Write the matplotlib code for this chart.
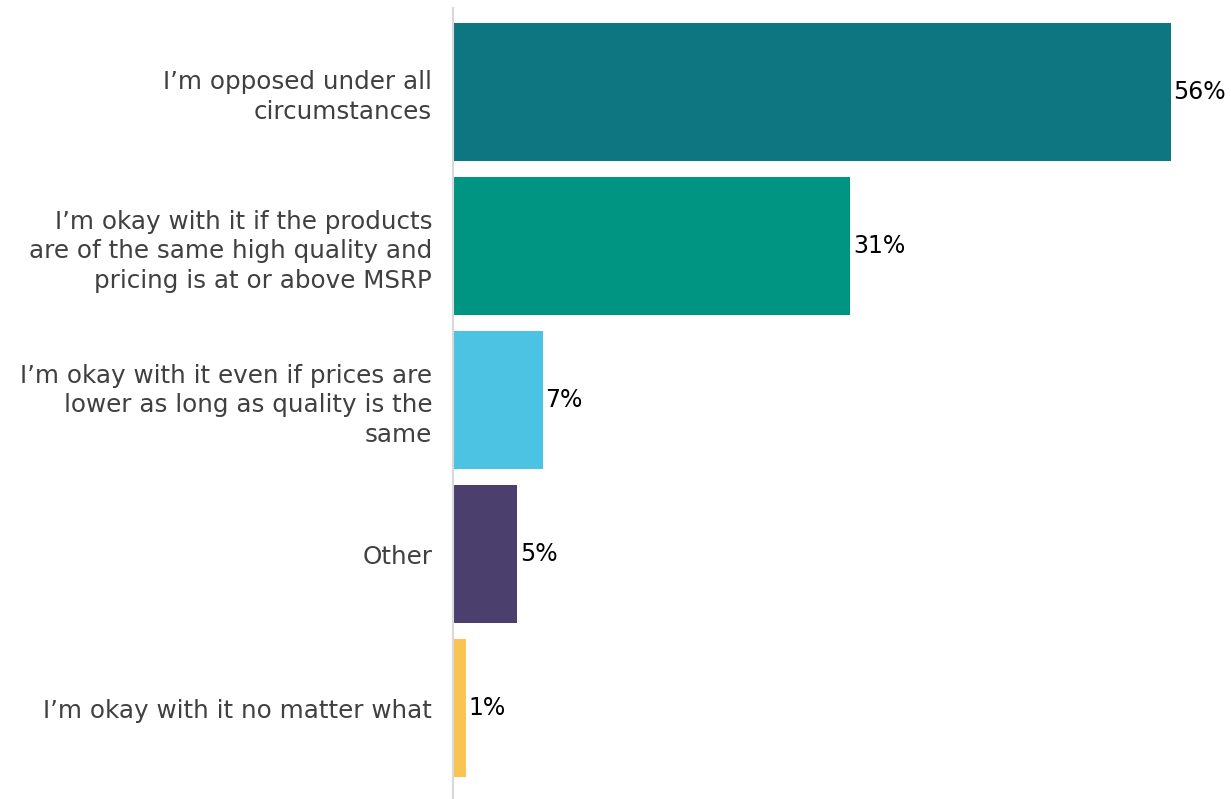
import matplotlib
matplotlib.use("Agg")
import matplotlib.pyplot as plt

plt.rcParams['font.family'] = ['DejaVu Sans']

categories = [
    "I\u2019m opposed under all\ncircumstances",
    "I\u2019m okay with it if the products\nare of the same high quality and\npricing is at or above MSRP",
    "I\u2019m okay with it even if prices are\nlower as long as quality is the\nsame",
    "Other",
    "I\u2019m okay with it no matter what",
]
values = [56, 31, 7, 5, 1]
colors = ["#0D7680", "#009482", "#4DC3E3", "#4B3F6E", "#F9C451"]

fig = plt.figure(figsize=(12.31, 7.99), dpi=100)
ax = fig.add_axes([453 / 1231, 0, 1 - 453 / 1231, 791 / 799])

pos = list(range(len(values)))
ax.barh(pos, values, height=0.896, color=colors)

for p, v in zip(pos, values):
    ax.text(v + 0.2, p, f"{v}%", va="center", ha="left", fontsize=17,
            color="black")

ax.set_yticks(pos)
ax.set_yticklabels(categories, fontsize=17.7, color="#404040", linespacing=1.3)
ax.tick_params(axis="y", length=0, pad=15)
ax.set_xticks([])
ax.set_xlim(0, (1231 - 453) / 12.82)
ax.set_ylim(len(values) - 1 + 0.59, -0.545)

for s in ["top", "right", "bottom"]:
    ax.spines[s].set_visible(False)
ax.spines["left"].set_color("#d9d9d9")
ax.spines["left"].set_linewidth(1.5)

fig.savefig("out.png", dpi=100)
